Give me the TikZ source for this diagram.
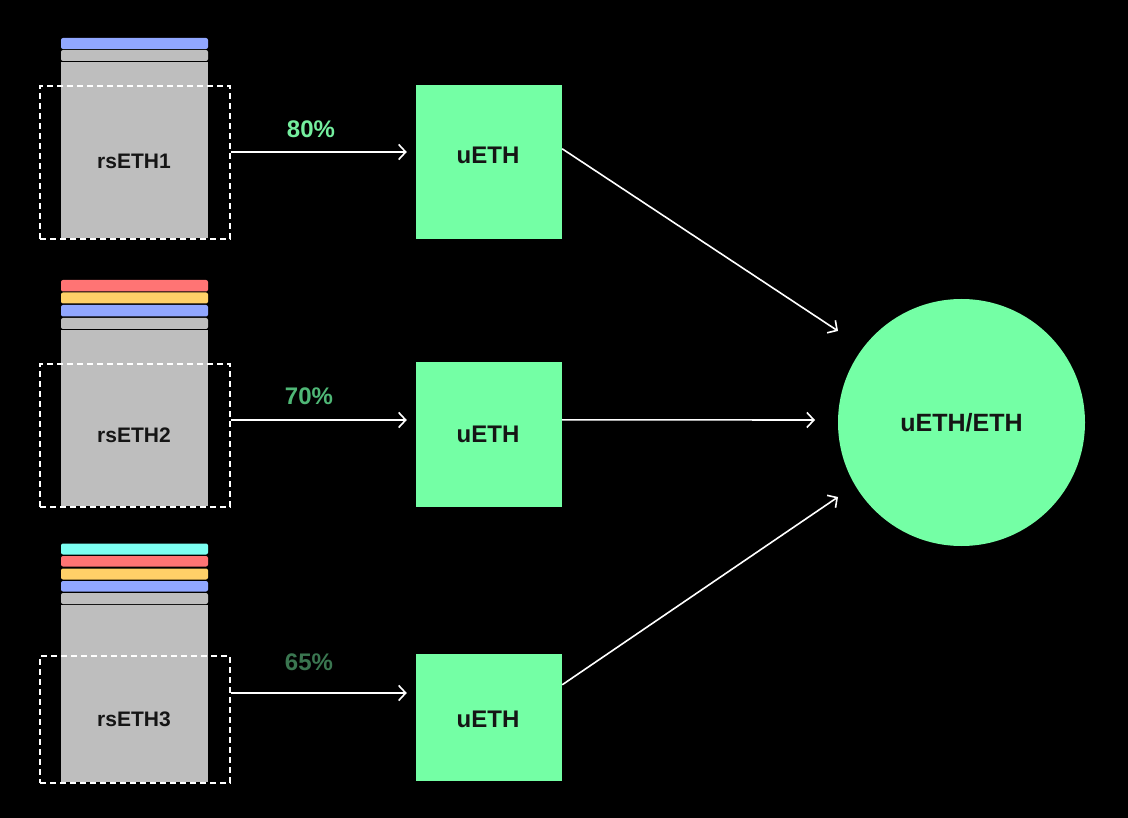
\documentclass[tikz,border=0pt]{standalone}
\usepackage{fontspec}
\setmainfont{Liberation Sans}
\usetikzlibrary{arrows.meta,calc}
\definecolor{ugreen}{HTML}{74FFA5}
\definecolor{sgray}{HTML}{BEBEBE}
\definecolor{sblue}{HTML}{91A7FF}
\definecolor{sred}{HTML}{FF7474}
\definecolor{syellow}{HTML}{FFD068}
\definecolor{scyan}{HTML}{7CFFF2}
\definecolor{ink}{HTML}{151515}
\definecolor{pcta}{HTML}{74EE9E}
\definecolor{pctb}{HTML}{4FB776}
\definecolor{pctc}{HTML}{3A7650}
\begin{document}
\begin{tikzpicture}[x=1pt,y=-1pt,
  strip/.style={rounded corners=2pt},
  dashbox/.style={draw=white, line width=2pt, dash pattern=on 6pt off 4pt, minimum width=190pt, anchor=north west, inner sep=0pt},
  lbl/.style={text=ink, font=\bfseries\fontsize{21}{23}\selectfont},
  ubox/.style={fill=ugreen, minimum width=146pt, inner sep=0pt},
  utxt/.style={text=ink, font=\bfseries\fontsize{24}{26}\selectfont},
  pct/.style={font=\bfseries\fontsize{24}{26}\selectfont},
  arr/.style={draw=white, line width=1.6pt, -{Straight Barb[length=7pt,width=15pt,line width=1.6pt]}}
]
\fill[black] (0,0) rectangle (1128,818);
\useasboundingbox (0,0) rectangle (1128,818);

% stack 1
\fill[sgray] (61,62) rectangle (208,238);
\fill[sgray,strip] (61,50) rectangle (208,61);
\fill[sblue,strip] (61,38) rectangle (208,49);
\node[dashbox, minimum height=153pt] (d1) at (39,85) {};
\node[lbl] (r1) at (134,161) {rsETH1};

% stack 2
\fill[sgray] (61,330) rectangle (208,506);
\fill[sgray,strip] (61,318) rectangle (208,329);
\fill[sblue,strip] (61,305) rectangle (208,316.5);
\fill[syellow,strip] (61,292.5) rectangle (208,303.5);
\fill[sred,strip] (61,280) rectangle (208,291.5);
\node[dashbox, minimum height=143pt] (d2) at (39,363) {};
\node[lbl] (r2) at (134,435) {rsETH2};

% stack 3
\fill[sgray] (61,605) rectangle (208,782);
\fill[sgray,strip] (61,593) rectangle (208,604);
\fill[sblue,strip] (61,581) rectangle (208,591.5);
\fill[syellow,strip] (61,568.5) rectangle (208,579.5);
\fill[sred,strip] (61,556) rectangle (208,566.5);
\fill[scyan,strip] (61,543.5) rectangle (208,554.5);
\node[dashbox, minimum height=127pt] (d3) at (39,655) {};
\node[lbl] (r3) at (134,719) {rsETH3};

% uETH boxes
\node[ubox, minimum height=154pt] (u1) at (489,162) {};
\node[ubox, minimum height=145pt] (u2) at (489,434.5) {};
\node[ubox, minimum height=127pt] (u3) at (489,717.5) {};
\node[utxt] (t1) at (488,155) {uETH};
\node[utxt] (t2) at (488,434) {uETH};
\node[utxt] (t3) at (488,719) {uETH};

% circle
\node[circle, fill=ugreen, minimum size=247pt, inner sep=0pt, text=ink, font=\bfseries\fontsize{25}{27}\selectfont] (c) at (961.5,422.5) {uETH/ETH};

% horizontal arrows
\coordinate (s1) at ($(d1.north east)+(0,67)$);
\coordinate (s2) at ($(d2.north east)+(0,57)$);
\coordinate (s3) at ($(d3.north east)+(0,38)$);
\draw[arr, shorten >=9pt] (s1) -- (s1 -| u1.west);
\draw[arr, shorten >=9pt] (s2) -- (s2 -| u2.west);
\draw[arr, shorten >=9pt] (s3) -- (s3 -| u3.west);

\node[pct, text=pcta] (p1) at (311,129) {80\%};
\node[pct, text=pctb] (p2) at (309,396) {70\%};
\node[pct, text=pctc] (p3) at (309,662) {65\%};

% converging arrows
\coordinate (b1) at ($(u1.north east)+(0,64)$);
\coordinate (b2) at ($(u2.north east)+(0,58)$);
\coordinate (b3) at ($(u3.north east)+(0,31)$);
\coordinate (e1) at (838,331);
\coordinate (e2) at (815,420);
\coordinate (e3) at (838,497);
\draw[arr] (b1) -- (e1);
\draw[arr] (b2) -- (e2);
\draw[arr] (b3) -- (e3);
\end{tikzpicture}
\end{document}
